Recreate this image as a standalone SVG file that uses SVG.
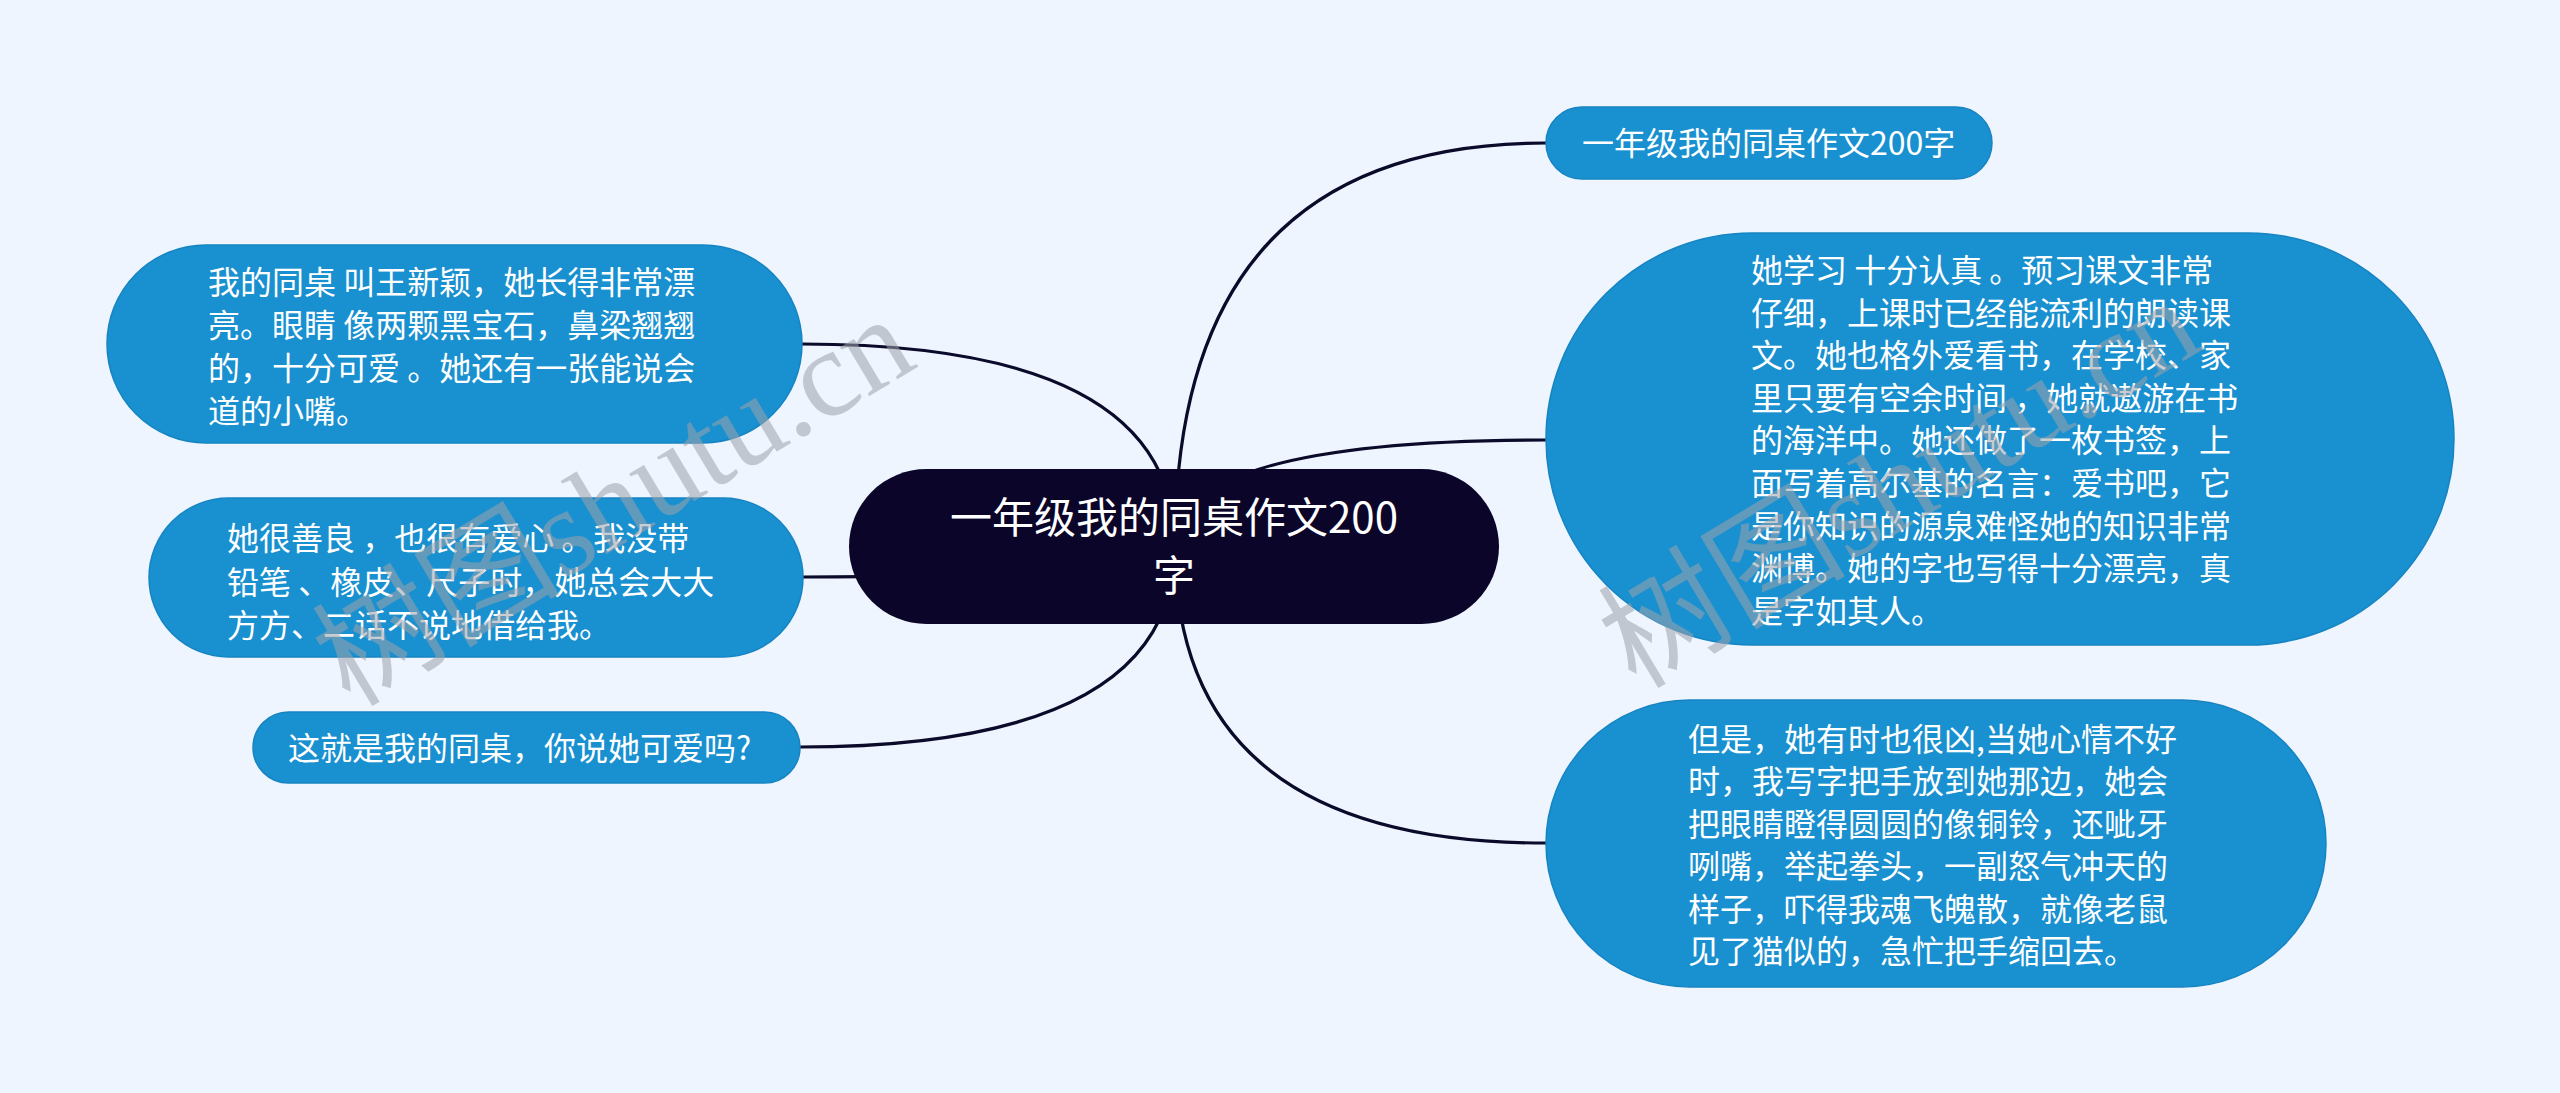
<svg xmlns="http://www.w3.org/2000/svg" width="2560" height="1093" viewBox="0 0 2560 1093">
<style>
.bg{fill:#eef5fe}
.leaf{fill:#1990d0;stroke:#1784c2;stroke-width:1.5}
.root{fill:#0b0629}
.conn{fill:none;stroke:#0b0a2a;stroke-width:3.2}
.t{font-family:"Noto Sans CJK SC","Noto Sans",sans-serif;font-size:32px;fill:#ffffff}
.rt{font-family:"Noto Sans CJK SC","Noto Sans",sans-serif;font-size:42px;fill:#ffffff}
.wm{font-family:"Liberation Serif","Noto Sans CJK SC",serif;font-size:124px;fill:#9ea3ab;opacity:0.55}
</style>
<rect class="bg" x="0" y="0" width="2560" height="1093"/>
<g id="connectors">
<path class="conn" d="M1175 546 Q1175 143 1546 143"/>
<path class="conn" d="M1175 546 Q1175 440 1546 440"/>
<path class="conn" d="M1175 546 Q1175 843 1546 843"/>
<path class="conn" d="M1175 546 Q1175 344 802 344"/>
<path class="conn" d="M1175 546 Q1175 577 803 577"/>
<path class="conn" d="M1175 546 Q1175 747 800 747"/>
</g>
<g id="root">
<rect class="root" x="849" y="469" width="650" height="155" rx="77.5"/>
<text class="rt" text-anchor="middle"><tspan x="1174" y="533">一年级我的同桌作文200</tspan><tspan x="1174" y="591">字</tspan></text>
</g>
<g id="node-r1">
<rect class="leaf" x="1546" y="107" width="446" height="72" rx="36"/>
<text class="t"><tspan x="1582" y="155">一年级我的同桌作文200字</tspan></text>
</g>
<g id="node-r2">
<rect class="leaf" x="1546" y="233" width="908" height="412" rx="206"/>
<text class="t">
<tspan x="1751" y="282">她学习 十分认真 。预习课文非常</tspan>
<tspan x="1751" y="325">仔细，上课时已经能流利的朗读课</tspan>
<tspan x="1751" y="367">文。她也格外爱看书，在学校、家</tspan>
<tspan x="1751" y="410">里只要有空余时间 ，她就遨游在书</tspan>
<tspan x="1751" y="452">的海洋中。她还做了一枚书签，上</tspan>
<tspan x="1751" y="495">面写着高尔基的名言：爱书吧，它</tspan>
<tspan x="1751" y="538">是你知识的源泉难怪她的知识非常</tspan>
<tspan x="1751" y="580">渊博。她的字也写得十分漂亮，真</tspan>
<tspan x="1751" y="623">是字如其人。</tspan>
</text>
</g>
<g id="node-r3">
<rect class="leaf" x="1546" y="700" width="780" height="287" rx="143.5"/>
<text class="t">
<tspan x="1688" y="751">但是，她有时也很凶,当她心情不好</tspan>
<tspan x="1688" y="793">时，我写字把手放到她那边，她会</tspan>
<tspan x="1688" y="836">把眼睛瞪得圆圆的像铜铃，还呲牙</tspan>
<tspan x="1688" y="878">咧嘴，举起拳头，一副怒气冲天的</tspan>
<tspan x="1688" y="921">样子，吓得我魂飞魄散，就像老鼠</tspan>
<tspan x="1688" y="963">见了猫似的，急忙把手缩回去。</tspan>
</text>
</g>
<g id="node-l1">
<rect class="leaf" x="107" y="245" width="695" height="198" rx="99"/>
<text class="t">
<tspan x="208" y="294">我的同桌 叫王新颖，她长得非常漂</tspan>
<tspan x="208" y="337">亮。眼睛 像两颗黑宝石，鼻梁翘翘</tspan>
<tspan x="208" y="380">的，十分可爱 。她还有一张能说会</tspan>
<tspan x="208" y="423">道的小嘴。</tspan>
</text>
</g>
<g id="node-l2">
<rect class="leaf" x="149" y="498" width="654" height="159" rx="79.5"/>
<text class="t">
<tspan x="227" y="550">她很善良 ，也很有爱心 。我没带</tspan>
<tspan x="227" y="594">铅笔 、橡皮、尺子时，她总会大大</tspan>
<tspan x="227" y="637">方方、二话不说地借给我。</tspan>
</text>
</g>
<g id="node-l3">
<rect class="leaf" x="253" y="712" width="547" height="71" rx="35.5"/>
<text class="t"><tspan x="288" y="760">这就是我的同桌，你说她可爱吗?</tspan></text>
</g>
<g id="watermark">
<text class="wm" transform="translate(350 708) rotate(-31)">树图shutu.cn</text>
<text class="wm" transform="translate(1636 690) rotate(-31)">树图shutu.cn</text>
</g>
</svg>
